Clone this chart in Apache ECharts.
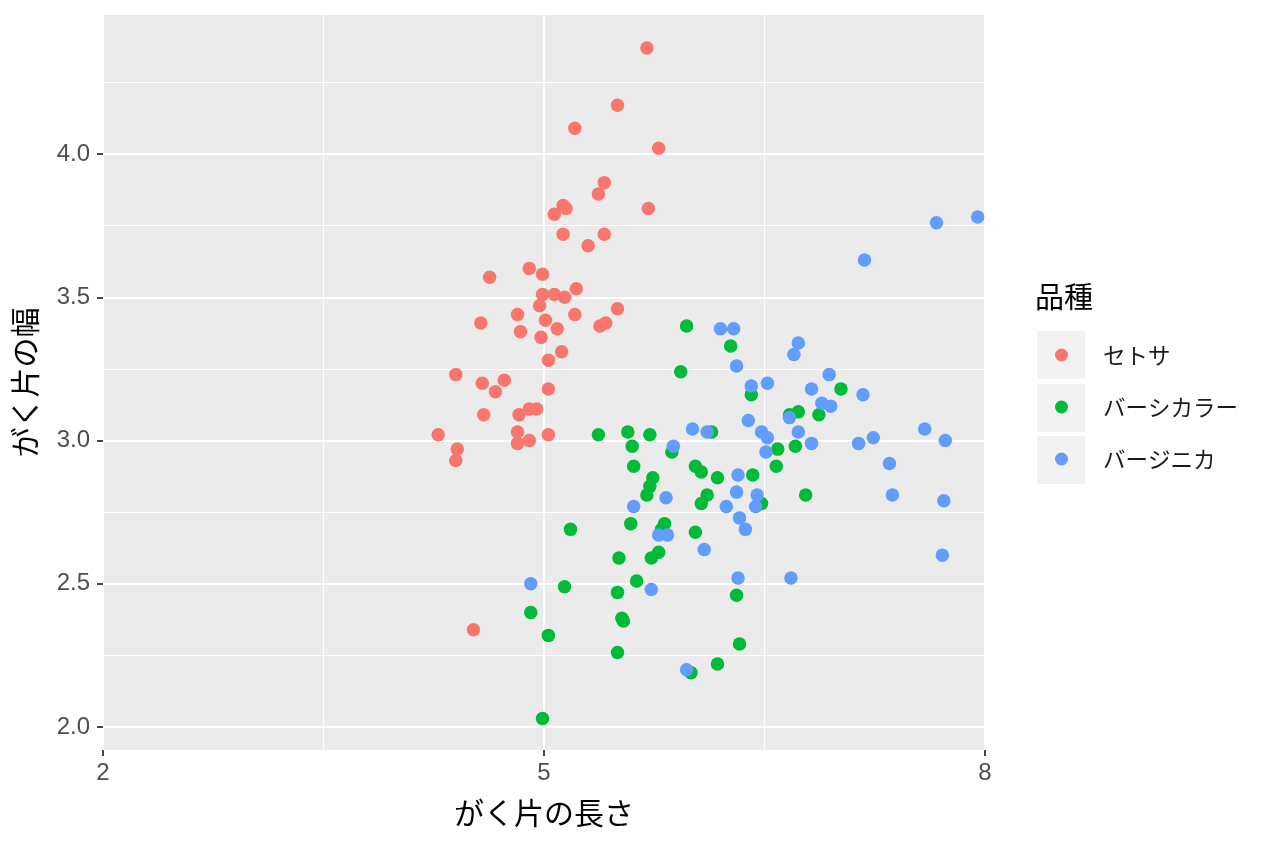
<!DOCTYPE html>
<html>
<head>
<meta charset="utf-8">
<script src="https://cdn.jsdelivr.net/npm/echarts@6/dist/echarts.min.js"></script>
<style>
  html, body { margin: 0; padding: 0; background: #fff; }
  #chart { width: 1264px; height: 848px; }
</style>
</head>
<body>
<div id="chart"></div>
<script>
// 品種ごとの名前
var speciesNames = ['セトサ', 'バーシカラー', 'バージニカ'];
var speciesColors = ['#F8766D', '#00BA38', '#619CFF'];

// がく片の長さ / 幅 (jitter 付きで読み取った値)
var setosaX = [5.70, 5.50, 5.21, 5.78, 5.41, 5.37, 5.13, 5.15, 5.07, 5.71,
  5.13, 5.41, 5.30, 4.63, 4.90, 4.99, 4.99, 5.07, 5.14, 5.22,
  4.97, 5.50, 4.82, 5.21, 4.57, 5.01, 4.84, 5.09, 4.98, 5.38,
  5.42, 5.12, 5.03, 4.40, 4.58, 4.73, 4.67, 5.03, 4.59, 4.83,
  4.90, 4.95, 4.28, 4.82, 4.82, 4.90, 5.03, 4.41, 4.40, 4.52];
var setosaY = [4.37, 4.17, 4.09, 4.02, 3.90, 3.86, 3.82, 3.81, 3.79, 3.81,
  3.72, 3.72, 3.68, 3.57, 3.60, 3.58, 3.51, 3.51, 3.50, 3.53,
  3.47, 3.46, 3.44, 3.44, 3.41, 3.42, 3.38, 3.39, 3.36, 3.40,
  3.41, 3.31, 3.28, 3.23, 3.20, 3.21, 3.17, 3.18, 3.09, 3.09,
  3.11, 3.11, 3.02, 3.03, 2.99, 3.00, 3.02, 2.97, 2.93, 2.34];

var versicolorX = [5.97, 6.27, 5.93, 6.41, 7.02, 6.67, 6.73, 6.87, 6.59, 6.71,
  6.58, 6.78, 6.42, 6.48, 6.31, 6.33, 6.18, 6.00, 6.03, 6.03,
  6.07, 6.18, 6.11, 6.07, 6.14, 5.87, 5.37, 5.57, 5.72, 5.60,
  5.61, 5.74, 5.72, 5.70, 5.59, 5.82, 5.80, 5.51, 5.73, 5.78,
  5.63, 5.50, 5.53, 5.54, 5.50, 5.18, 5.14, 4.91, 5.03, 4.99];
var versicolorY = [3.40, 3.33, 3.24, 3.16, 3.18, 3.09, 3.10, 3.09, 2.97, 2.98,
  2.91, 2.81, 2.88, 2.78, 2.46, 2.29, 2.22, 2.19, 2.68, 2.91,
  2.89, 2.87, 2.81, 2.78, 3.03, 2.96, 3.02, 3.03, 3.02, 2.98,
  2.91, 2.87, 2.84, 2.81, 2.71, 2.71, 2.69, 2.59, 2.59, 2.61,
  2.51, 2.47, 2.38, 2.37, 2.26, 2.69, 2.49, 2.40, 2.32, 2.03];

var virginicaX = [7.67, 7.95, 7.18, 6.73, 6.70, 6.94, 6.52, 6.41, 6.82, 7.17,
  6.89, 6.95, 6.67, 6.20, 6.29, 6.31, 6.39, 6.01, 6.11, 6.48,
  6.52, 6.51, 6.73, 6.82, 7.14, 7.24, 7.59, 7.73, 7.35, 7.37,
  7.72, 7.71, 5.88, 6.32, 6.31, 6.45, 6.24, 6.44, 6.33, 6.37,
  6.09, 5.83, 5.61, 5.78, 5.84, 6.32, 6.68, 5.73, 5.97, 4.91];
var virginicaY = [3.76, 3.78, 3.63, 3.34, 3.30, 3.23, 3.20, 3.19, 3.18, 3.16,
  3.13, 3.12, 3.08, 3.39, 3.39, 3.26, 3.07, 3.04, 3.03, 3.03,
  3.01, 2.96, 3.03, 2.99, 2.99, 3.01, 3.04, 3.00, 2.92, 2.81,
  2.79, 2.60, 2.98, 2.88, 2.82, 2.81, 2.77, 2.77, 2.73, 2.69,
  2.62, 2.80, 2.77, 2.67, 2.67, 2.52, 2.52, 2.48, 2.20, 2.50];

// 目盛り
var xMajorTicks = [2, 5, 8];
var xMinorTicks = [3.5, 6.5];
var yMajorTicks = [2.0, 2.5, 3.0, 3.5, 4.0];
var yMinorTicks = [2.25, 2.75, 3.25, 3.75, 4.25];

function zip(xs, ys) {
  var out = [];
  for (var i = 0; i < xs.length; i++) out.push([xs[i], ys[i]]);
  return out;
}

var chart = echarts.init(document.getElementById('chart'));
var labelFont = 'Liberation Sans, Arial, sans-serif';
var jpFont = '"Noto Sans CJK JP", sans-serif';

chart.setOption({
  backgroundColor: '#ffffff',
  animation: false,
  textStyle: { fontFamily: jpFont },
  grid: {
    left: 103, right: 279, top: 15, bottom: 98,
    show: true, backgroundColor: '#EBEBEB', borderWidth: 0
  },
  title: {
    text: '品種',
    left: 1035, top: 282, padding: 0,
    textStyle: { fontSize: 29, fontWeight: 'normal', color: '#000', fontFamily: jpFont }
  },
  legend: {
    orient: 'vertical',
    left: 1055, top: 343, padding: 0,
    itemWidth: 13, itemHeight: 13, itemGap: 28,
    icon: 'circle',
    data: speciesNames,
    textStyle: { fontSize: 22.5, color: '#1a1a1a', lineHeight: 24, padding: [0, 0, 0, 30], fontFamily: jpFont }
  },
  graphic: [
    { type: 'rect', shape: { x: 1037, y: 331, width: 48, height: 48 }, style: { fill: '#F2F2F2' }, z: -1 },
    { type: 'rect', shape: { x: 1037, y: 384, width: 48, height: 48 }, style: { fill: '#F2F2F2' }, z: -1 },
    { type: 'rect', shape: { x: 1037, y: 436, width: 48, height: 48 }, style: { fill: '#F2F2F2' }, z: -1 }
  ],
  xAxis: [
    {
      type: 'value', min: 2, max: 8, position: 'bottom',
      name: 'がく片の長さ', nameLocation: 'middle', nameGap: 48,
      nameTextStyle: { fontSize: 30, color: '#000', fontFamily: jpFont },
      axisLine: { show: false },
      axisTick: { show: true, length: 6, customValues: xMajorTicks, lineStyle: { color: '#333', width: 1.8 } },
      axisLabel: { customValues: xMajorTicks, margin: 11, fontSize: 24, color: '#4D4D4D', fontFamily: labelFont },
      splitLine: { show: true, lineStyle: { color: '#ffffff', width: 2 } }
    },
    {
      type: 'value', min: 2, max: 8, position: 'bottom',
      axisLine: { show: false },
      axisTick: { show: false, customValues: xMinorTicks },
      axisLabel: { show: false },
      splitLine: { show: true, lineStyle: { color: '#ffffff', width: 1 } }
    }
  ],
  yAxis: [
    {
      type: 'value', min: 1.92, max: 4.485, position: 'left',
      name: 'がく片の幅', nameLocation: 'middle', nameGap: 63,
      nameTextStyle: { fontSize: 30, color: '#000', fontFamily: jpFont },
      axisLine: { show: false },
      axisTick: { show: true, length: 6, customValues: yMajorTicks, lineStyle: { color: '#333', width: 1.8 } },
      axisLabel: {
        customValues: yMajorTicks, margin: 13, fontSize: 24, color: '#4D4D4D', fontFamily: labelFont,
        formatter: function (v) { return v.toFixed(1); }
      },
      splitLine: { show: true, lineStyle: { color: '#ffffff', width: 2 } }
    },
    {
      type: 'value', min: 1.92, max: 4.485, position: 'left',
      axisLine: { show: false },
      axisTick: { show: false, customValues: yMinorTicks },
      axisLabel: { show: false },
      splitLine: { show: true, lineStyle: { color: '#ffffff', width: 1 } }
    }
  ],
  series: [
    { name: speciesNames[0], type: 'scatter', data: zip(setosaX, setosaY), symbolSize: 13.5,
      itemStyle: { color: speciesColors[0], opacity: 1 } },
    { name: speciesNames[1], type: 'scatter', data: zip(versicolorX, versicolorY), symbolSize: 13.5,
      itemStyle: { color: speciesColors[1], opacity: 1 } },
    { name: speciesNames[2], type: 'scatter', data: zip(virginicaX, virginicaY), symbolSize: 13.5,
      itemStyle: { color: speciesColors[2], opacity: 1 } }
  ]
});
</script>
</body>
</html>
